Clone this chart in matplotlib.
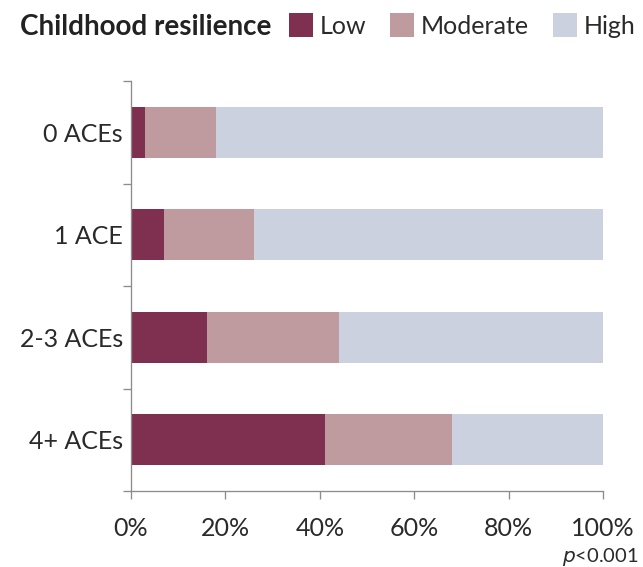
import matplotlib.pyplot as plt
import numpy as np

categories = ["0 ACEs", "1 ACE", "2-3 ACEs", "4+ ACEs"]
low = [3, 7, 16, 41]
moderate = [15, 19, 28, 27]
high = [82, 74, 56, 32]
series_names = ["Low", "Moderate", "High"]
colors = ["#7f2f4f", "#bf9a9e", "#cbd1de"]
xticks = [0, 20, 40, 60, 80, 100]

plt.rcParams['font.family'] = ['Lato', 'DejaVu Sans']
grey = "#8c8c8c"
txt = "#2a2a2a"

fig = plt.figure(figsize=(6.43, 5.67), dpi=100)
ax = fig.add_axes([131/643, 1 - 491/567, 472/643, 410/567])

y = np.arange(len(categories))
left = np.zeros(len(categories))
bars = []
for vals, name, c in zip([low, moderate, high], series_names, colors):
    b = ax.barh(y, vals, left=left, height=0.5, color=c, label=name)
    bars.append(b)
    left = left + np.array(vals)

ax.set_xlim(0, 100)
ax.set_ylim(3.5, -0.5)
ax.set_xticks(xticks)
ax.set_xticklabels(["%d%%" % v for v in xticks], fontsize=18, color=txt)
ax.set_yticks(y)
ax.set_yticklabels(categories, fontsize=18, color=txt)
ax.tick_params(axis='y', length=0, pad=5.8)
# ticks between the categories
ax.set_yticks([-0.5, 0.5, 1.5, 2.5], minor=True)
ax.tick_params(axis='y', which='minor', length=5.8, color=grey, width=0.95)
ax.tick_params(axis='x', length=5.8, color=grey, width=0.95, pad=13)

for s in ["top", "right"]:
    ax.spines[s].set_visible(False)
for s in ["left", "bottom"]:
    ax.spines[s].set_color(grey)
    ax.spines[s].set_linewidth(0.95)
# the x-axis line runs a little past zero on the left
ax.plot([-8/4.72, 0], [3.5, 3.5], color=grey, lw=0.95, clip_on=False, solid_capstyle='butt')

fig.text(20/643, 1 - 35/567, "Childhood resilience", fontsize=20, fontweight="bold",
         color="#222222", va="baseline", ha="left")
fig.legend(handles=bars, labels=series_names, loc="center left",
           bbox_to_anchor=(289/643, 1 - 25.5/567), ncol=3, frameon=False,
           fontsize=18, handlelength=0.96, handleheight=1.08, handletextpad=0.28,
           columnspacing=0.94, borderpad=0, borderaxespad=0, labelcolor=txt)

fig.text(639/643, 1 - 562/567, r"$\it{p}$<0.001", fontsize=14.5, color=txt,
         ha="right", va="baseline")

fig.savefig("out.png", dpi=100)
